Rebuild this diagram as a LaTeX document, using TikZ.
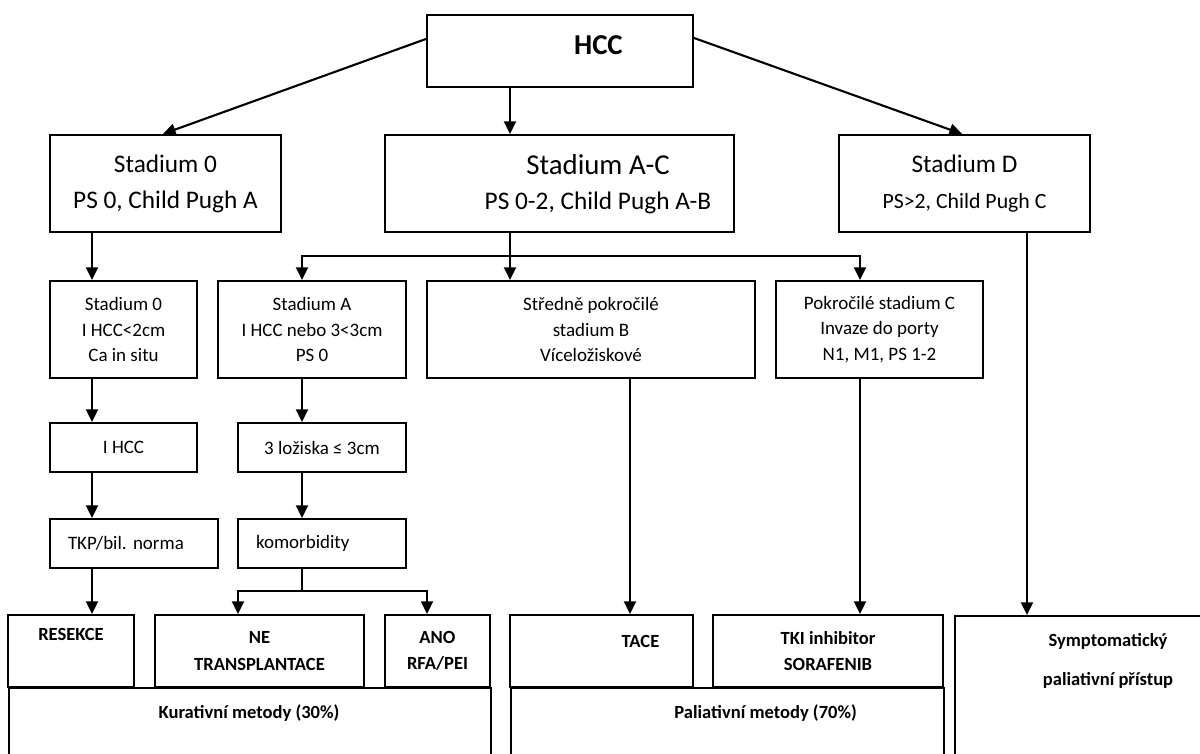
\documentclass[tikz,border=0pt]{standalone}
\usepackage{fontspec}
\setmainfont{Carlito}
\usetikzlibrary{positioning,calc,arrows.meta}

\begin{document}
\begin{tikzpicture}[
        % Styl pro ramecky
        box/.style={
            draw=black,
            line width=1.5pt,
            fill=white,
            inner sep=2pt,
            align=center
        },
        % Styl pro sipky
        arr/.style={
            -{Triangle[length=9pt,width=8.5pt]},
            line width=1.5pt
        },
        % Spojovaci cara bez sipky
        ln/.style={
            line width=1.5pt
        },
        % Pisma
        bigtxt/.style={font=\fontsize{18}{25.5}\selectfont},
        smalltxt/.style={font=\fontsize{13.5}{18.3}\selectfont},
        boldtxt/.style={font=\bfseries\fontsize{13.2}{18.7}\selectfont},
        hcctxt/.style={font=\bfseries\fontsize{20.5}{24}\selectfont}
    ]

        \clip (0,0) rectangle (30,-18.825);

        % --- 1. KORENOVY UZEL ---
        \node[box, minimum width=6.65cm, minimum height=1.8cm] (hcc) at (14.0, -1.275) {};
        \node[hcctxt] (hcclabel) at (14.96, -1.125) {HCC};

        % --- 2. STADIA ---
        \node[box, bigtxt, minimum width=5.775cm, minimum height=2.425cm] (s0) at (4.1375, -4.5875)
            {Stadium 0\\PS 0, Child Pugh A};
        \node[box, minimum width=8.725cm, minimum height=2.425cm] (sAC) at (13.9875, -4.5875) {};
        \node[font=\fontsize{20.5}{25}\selectfont, align=center] (sAClabel) at (14.95, -4.6)
            {Stadium A-C\\{\fontsize{18}{21}\selectfont PS 0-2, Child Pugh A-B}};
        \node[box, bigtxt, minimum width=6.275cm, minimum height=2.425cm] (sD) at (24.1125, -4.5875)
            {Stadium D\\{\fontsize{15.5}{18}\selectfont PS>2, Child Pugh C}};

        % --- 3. PODSTADIA ---
        \node[box, smalltxt, minimum width=3.675cm, minimum height=2.425cm] (a0) at (3.0875, -8.2375)
            {Stadium 0\\I HCC<2cm\\Ca in situ};
        \node[box, smalltxt, minimum width=4.7cm, minimum height=2.425cm] (aA) at (7.8, -8.2375)
            {Stadium A\\I HCC nebo 3<3cm\\PS 0};
        \node[box, smalltxt, minimum width=8.2cm, minimum height=2.425cm] (aB) at (14.775, -8.2375)
            {Středně pokročilé\\stadium B\\Víceložiskové};
        \node[box, smalltxt, minimum width=5.175cm, minimum height=2.425cm] (aC) at (21.9875, -8.2375)
            {Pokročilé stadium C\\Invaze do porty\\N1, M1, PS 1-2};

        \node[box, smalltxt, minimum width=3.675cm, minimum height=1.225cm] (ihcc) at (3.0875, -11.1875) {I HCC};
        \node[box, smalltxt, minimum width=4.2cm, minimum height=1.225cm] (lozi) at (8.05, -11.1875) {3 ložiska ≤ 3cm};

        \node[box, smalltxt, minimum width=4.2cm, minimum height=1.225cm, text width=3.3cm, inner xsep=0.45cm, align=left]
            (tkp) at (3.35, -13.5875) {TKP/bil.\ norma};
        \node[box, smalltxt, minimum width=4.2cm, minimum height=1.225cm, text width=3.3cm, inner xsep=0.45cm, align=left]
            (komo) at (8.05, -13.5875) {komorbidity};

        % --- 4. LECBA ---
        \node[box, anchor=north west, minimum width=12.05cm, minimum height=3cm] (kur) at (0.2, -17.175) {};
        \node[box, anchor=north west, minimum width=10.825cm, minimum height=3cm] (pal) at (12.75, -17.175) {};
        \node[box, anchor=north west, minimum width=6.5cm, minimum height=5cm] (sym) at (23.85, -15.375) {};

        \node[box, boldtxt, minimum width=3.15cm, minimum height=1.8cm] (res) at (1.775, -16.275) {RESEKCE\\\strut};
        \node[box, boldtxt, minimum width=5.225cm, minimum height=1.8cm] (ne) at (6.4875, -16.275) {NE\\TRANSPLANTACE};
        \node[box, boldtxt, minimum width=2.625cm, minimum height=1.8cm] (ano) at (10.9375, -16.275) {ANO\\RFA/PEI};
        \node[box, minimum width=4.575cm, minimum height=1.8cm] (tace) at (15.0375, -16.275) {};
        \node[boldtxt] (tacelabel) at (16.0125, -16.025) {TACE};
        \node[box, boldtxt, minimum width=5.75cm, minimum height=1.8cm] (tki) at (20.7, -16.275) {TKI inhibitor\\SORAFENIB};

        \node[boldtxt] (kurlabel) at (6.225, -17.825) {Kurativní metody (30\%)};
        \node[boldtxt] (pallabel) at (19.14, -17.825) {Paliativní metody (70\%)};
        \node[boldtxt, align=center] (symlabel) at (27.7, -16.5125) {Symptomatický\\[9pt]paliativní přístup};

        % --- 5. SLOUPCE SIPEK ---
        \coordinate (c0) at (2.3, 0);
        \coordinate (cA) at (7.55, 0);
        \coordinate (cM) at (12.75, 0);
        \coordinate (cB) at (15.75, 0);
        \coordinate (cC) at (21.5, 0);
        \coordinate (cD) at (25.675, 0);
        \coordinate (cNE) at (5.95, 0);
        \coordinate (cANO) at (10.675, 0);
        \coordinate (e0) at (4.075, 0);
        \coordinate (eD) at (24.05, 0);
        \coordinate (brA) at (0, -6.4);
        \coordinate (brK) at (0, -14.775);

        % --- 6. SIPKY ---
        \draw[arr] ($(hcc.west)+(0,0.3)$) -- (s0.north -| e0);
        \draw[arr] (hcc.south -| cM) -- (sAC.north -| cM);
        \draw[arr] ($(hcc.east)+(0,0.325)$) -- (sD.north -| eD);

        \draw[arr] (s0.south -| c0) -- (a0.north -| c0);
        \draw[arr] (a0.south -| c0) -- (ihcc.north -| c0);
        \draw[arr] (ihcc.south -| c0) -- (tkp.north -| c0);
        \draw[arr] (tkp.south -| c0) -- (res.north -| c0);

        \draw[arr] (sAC.south -| cM) -- (aB.north -| cM);
        \draw[arr] (brA -| cM) -| (aA.north -| cA);
        \draw[arr] (brA -| cM) -| (aC.north -| cC);

        \draw[arr] (aA.south -| cA) -- (lozi.north -| cA);
        \draw[arr] (lozi.south -| cA) -- (komo.north -| cA);
        \draw[ln] (komo.south -| cA) -- (brK -| cA);
        \draw[arr] (brK -| cA) -| (ne.north -| cNE);
        \draw[arr] (brK -| cA) -| (ano.north -| cANO);

        \draw[arr] (aB.south -| cB) -- (tace.north -| cB);
        \draw[arr] (aC.south -| cC) -- (tki.north -| cC);
        \draw[arr] (sD.south -| cD) -- (sym.north -| cD);

    \end{tikzpicture}
\end{document}
